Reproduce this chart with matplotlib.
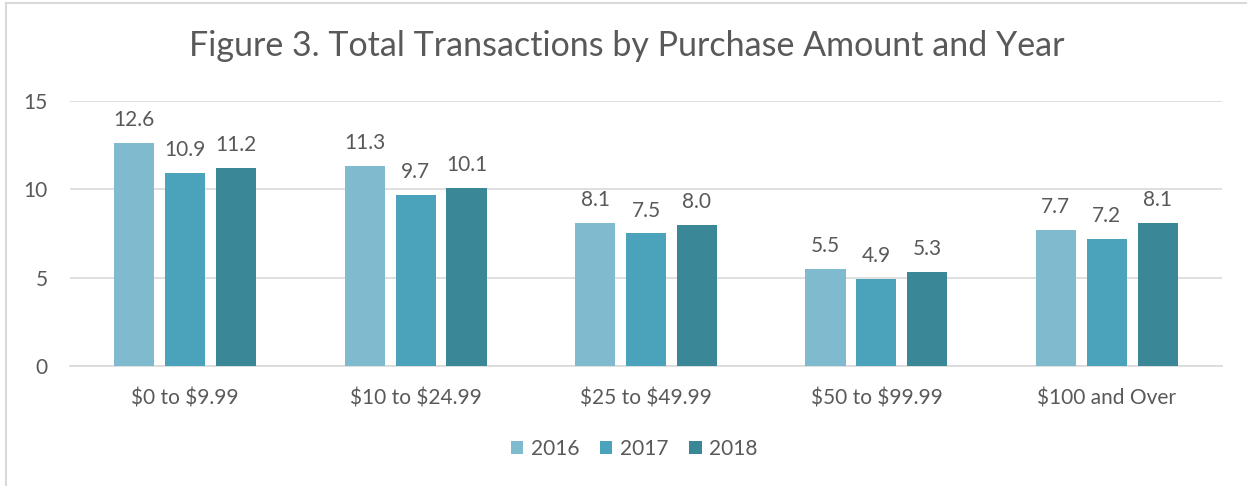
import matplotlib
matplotlib.use("Agg")
import matplotlib.pyplot as plt
import numpy as np
from matplotlib.lines import Line2D

categories = ["$0 to $9.99", "$10 to $24.99", "$25 to $49.99", "$50 to $99.99", "$100 and Over"]
years = ["2016", "2017", "2018"]
v2016 = [12.6, 11.3, 8.1, 5.5, 7.7]
v2017 = [10.9, 9.7, 7.5, 4.9, 7.2]
v2018 = [11.2, 10.1, 8.0, 5.3, 8.1]
yticks = [0, 5, 10, 15]
title = "Figure 3. Total Transactions by Purchase Amount and Year"

colors = ["#7FBACE", "#4AA3BA", "#3A8798"]
textc = "#595959"

plt.rcParams['font.family'] = ['Lato', 'DejaVu Sans']

fig = plt.figure(figsize=(12.47, 4.86), dpi=100)
ax = fig.add_axes([70/1247, 120/486, (1222-70)/1247, 265/486])

x = np.arange(len(categories))
width = 0.174
offs = [-0.221, 0, 0.221]
for vals, col, off, yr in zip([v2016, v2017, v2018], colors, offs, years):
    bars = ax.bar(x + off, vals, width, color=col, label=yr, zorder=3)
    for b, v in zip(bars, vals):
        ax.text(b.get_x() + b.get_width()/2, v + 1.3, f"{v:.1f}", ha="center", va="center",
                fontsize=15, color=textc)

ax.set_xlim(-0.5, len(categories) - 0.5)
ax.set_ylim(0, 15)
ax.set_yticks(yticks)
ax.set_yticklabels([str(t) for t in yticks], fontsize=15, color=textc)
ax.set_xticks(x)
ax.set_xticklabels(categories, fontsize=15, color=textc)
for t in ax.get_xticklabels():
    t.set_parse_math(False)
ax.tick_params(axis="both", length=0)
ax.tick_params(axis="y", pad=16)
ax.tick_params(axis="x", pad=16)
ax.yaxis.grid(True, color="#D9D9D9", linewidth=1.2, zorder=0)
for s in ["top", "right", "left"]:
    ax.spines[s].set_visible(False)
ax.spines["bottom"].set_color("#D9D9D9")
ax.spines["bottom"].set_linewidth(1.2)

fig.text(627/1247, 1 - 46/486, title, ha="center", va="center", fontsize=24.5, color=textc)

leg = fig.legend(loc="center", bbox_to_anchor=(634/1247, 1 - 449/486), ncol=3, frameon=False,
                 fontsize=15, handlelength=0.6, handleheight=0.6, handletextpad=0.35, columnspacing=1.0)
for t in leg.get_texts():
    t.set_color(textc)

# chart border (top and left visible)
fig.add_artist(Line2D([6/1247, 6/1247], [0, 1 - 3/486], transform=fig.transFigure, color="#D9D9D9", lw=1.5))
fig.add_artist(Line2D([6/1247, 1], [1 - 3/486, 1 - 3/486], transform=fig.transFigure, color="#D9D9D9", lw=1.5))

fig.savefig("out.png", dpi=100, facecolor="white")
